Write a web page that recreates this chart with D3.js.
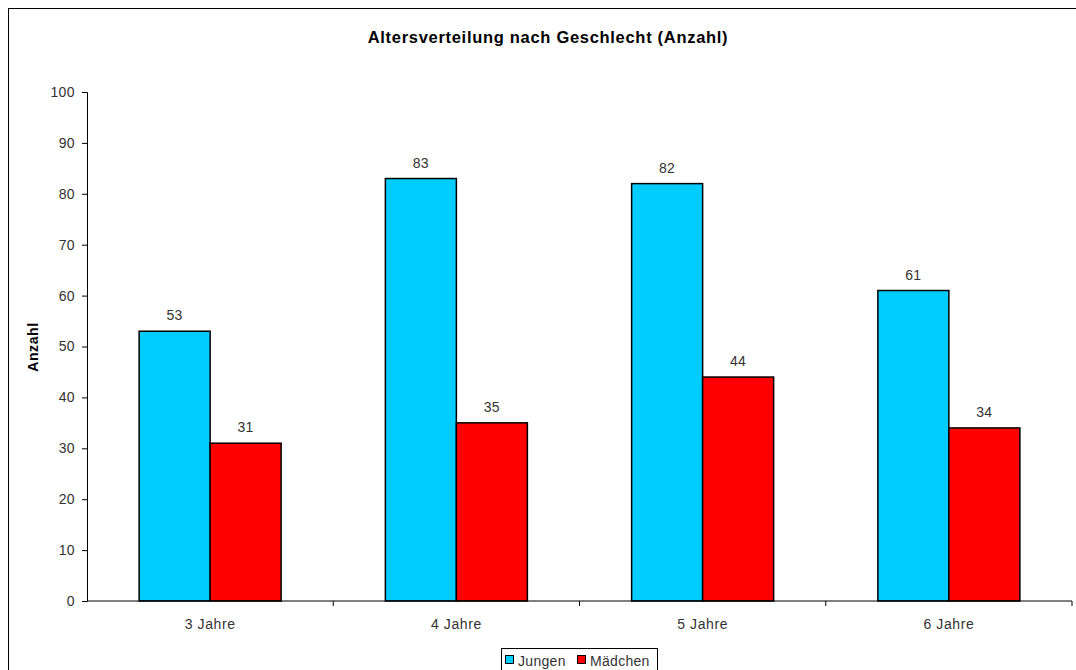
<!DOCTYPE html>
<html><head><meta charset="utf-8">
<script src="https://cdn.jsdelivr.net/npm/d3@7/dist/d3.min.js"></script>
<style>html,body{margin:0;padding:0;background:#fff;overflow:hidden}svg{display:block}</style>
</head><body>
<script>
const categories = ["3 Jahre", "4 Jahre", "5 Jahre", "6 Jahre"];
const seriesNames = ["Jungen", "Mädchen"];
const jungen = [53, 83, 82, 61];
const maedchen = [31, 35, 44, 34];
const yTicks = [0, 10, 20, 30, 40, 50, 60, 70, 80, 90, 100];
const colors = ["#00CCFF", "#FF0000"];

(function () {
const W = 1076, H = 670;
const FONT = "'Liberation Sans', Arial, sans-serif";
const svg = d3.select("body").append("svg").attr("width", W).attr("height", H)
  .style("font-family", FONT);

// outer frame
svg.append("rect").attr("x", 8.5).attr("y", 8.5).attr("width", W + 20).attr("height", H + 20)
  .attr("fill", "#fff").attr("stroke", "#000").attr("stroke-width", 1);

const pLeft = 87, pRight = 1072, pTop = 92, pBottom = 601;
const x = d3.scaleBand().domain(categories).range([pLeft, pRight]);
const y = d3.scaleLinear().domain([0, 100]).range([pBottom, pTop]);
const barW = 71;
const xs = d3.scaleBand().domain(seriesNames).range([0, barW * 2]);

const data = categories.map((c, i) => ({ c, vals: [jungen[i], maedchen[i]] }));

const g = svg.append("g");
data.forEach(d => {
  const gx = x(d.c) + x.bandwidth() / 2 - barW;
  d.vals.forEach((v, j) => {
    const bx = gx + xs(seriesNames[j]);
    g.append("rect").attr("x", bx).attr("y", y(v)).attr("width", xs.bandwidth())
      .attr("height", y(0) - y(v)).attr("fill", colors[j])
      .attr("stroke", "#000").attr("stroke-width", 1.5);
    g.append("text").attr("x", bx + xs.bandwidth() / 2).attr("y", y(v) - 11)
      .attr("text-anchor", "middle").attr("font-size", 14).attr("letter-spacing", 0.4)
      .attr("fill", "#333").text(v);
  });
});

// y axis
const yAxis = svg.append("g").attr("transform", `translate(${pLeft},0)`)
  .call(d3.axisLeft(y).tickValues(yTicks).tickSize(5).tickPadding(7));
yAxis.selectAll("path,line").attr("stroke", "#000");
yAxis.selectAll("text").attr("font-size", 14).attr("letter-spacing", 0.4).attr("fill", "#333")
  .style("font-family", FONT);

// x axis
const xAxis = svg.append("g").attr("transform", `translate(0,${pBottom})`);
xAxis.append("line").attr("x1", pLeft).attr("x2", pRight).attr("y1", 0).attr("y2", 0).attr("stroke", "#000");
categories.forEach(c => {
  xAxis.append("line").attr("x1", x(c) + x.bandwidth()).attr("x2", x(c) + x.bandwidth())
    .attr("y1", 0).attr("y2", 5).attr("stroke", "#000");
  xAxis.append("text").attr("x", x(c) + x.bandwidth() / 2).attr("y", 28)
    .attr("text-anchor", "middle").attr("font-size", 14).attr("letter-spacing", 0.6)
    .attr("fill", "#333").text(c);
});

// title
svg.append("text").attr("x", 548).attr("y", 43).attr("text-anchor", "middle")
  .attr("font-size", 16.5).attr("letter-spacing", 0.7).attr("font-weight", "bold")
  .text("Altersverteilung nach Geschlecht (Anzahl)");

// y label
svg.append("text").attr("transform", "translate(38,347) rotate(-90)").attr("text-anchor", "middle")
  .attr("font-size", 14).attr("letter-spacing", 0.6).attr("font-weight", "bold").text("Anzahl");

// legend
const lg = svg.append("g");
lg.append("rect").attr("x", 501.5).attr("y", 648.5).attr("width", 156).attr("height", 30)
  .attr("fill", "#fff").attr("stroke", "#000");
const items = [{ n: seriesNames[0], c: colors[0], x: 505 }, { n: seriesNames[1], c: colors[1], x: 577 }];
items.forEach(it => {
  lg.append("rect").attr("x", it.x + 0.5).attr("y", 655.5).attr("width", 8).attr("height", 8)
    .attr("fill", it.c).attr("stroke", "#000");
  lg.append("text").attr("x", it.x + 13).attr("y", 666).attr("font-size", 14)
    .attr("letter-spacing", 0.3).attr("fill", "#333").text(it.n);
});
})();
</script>
</body></html>
